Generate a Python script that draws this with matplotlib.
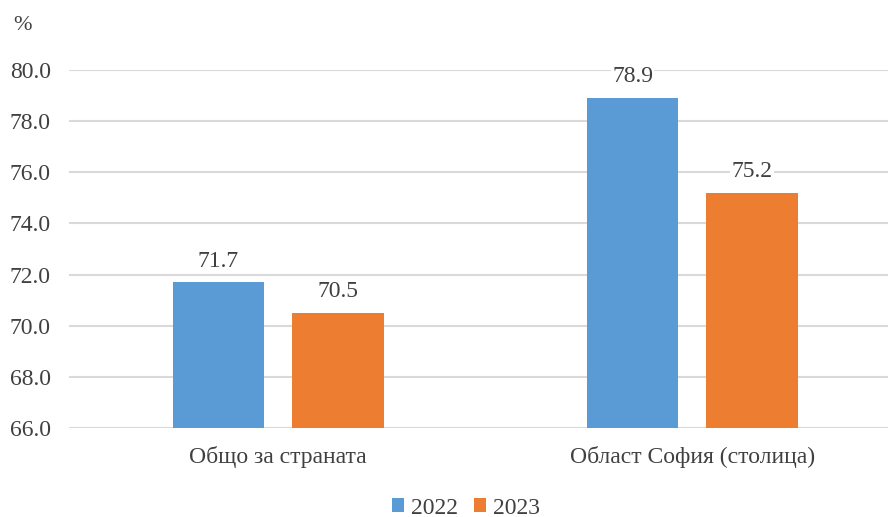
import matplotlib
matplotlib.use("Agg")
import matplotlib.pyplot as plt
from matplotlib.patches import Patch

categories = ["Общо за страната", "Област София (столица)"]
series_names = ["2022", "2023"]
values_2022 = [71.7, 78.9]
values_2023 = [70.5, 75.2]
yticks = [66.0, 68.0, 70.0, 72.0, 74.0, 76.0, 78.0, 80.0]

colors = ["#5B9BD5", "#ED7D31"]
plt.rcParams['font.family'] = ['Liberation Serif', 'DejaVu Serif']

W, H = 888, 517
fig = plt.figure(figsize=(W/100, H/100), dpi=100)
left, right, top, bottom = 69, 888, 70, 428
ax = fig.add_axes([left/W, (H-bottom)/H, (right-left)/W, (bottom-top)/H])

x = list(range(len(categories)))
bw = 0.222
off = 0.144
for i, (vals, c) in enumerate(zip([values_2022, values_2023], colors)):
    xs = [xi + (-off if i == 0 else off) for xi in x]
    ax.bar(xs, [v - 66 for v in vals], bottom=66, width=bw, color=c, zorder=3)
    for xx, v in zip(xs, vals):
        ax.text(xx, v + 0.42, f"{v:.1f}", ha="center", va="bottom", fontsize=17,
                color="#404040", zorder=4,
                bbox=dict(facecolor="white", edgecolor="none", pad=1))

ax.set_ylim(66, 80)
ax.set_xlim(-0.505, 1.473)
ax.set_yticks(yticks)
ax.set_yticklabels([f"{t:.1f}" for t in yticks], fontsize=17, color="#404040")
ax.set_xticks(x)
ax.set_xticklabels(categories, fontsize=17, color="#404040")
ax.tick_params(axis="both", length=0)
ax.tick_params(axis="y", pad=13)
ax.tick_params(axis="x", pad=13)
ax.grid(axis="y", color="#D9D9D9", linewidth=1.5, zorder=0)
for s in ax.spines.values():
    s.set_visible(False)

fig.text(22/W, 1 - 25/H, "%", fontsize=16, color="#404040", ha="center", va="center")

handles = [Patch(facecolor=c, edgecolor="none") for c in colors]
fig.legend(handles, series_names, loc="center", bbox_to_anchor=(466/W, 1 - 508/H),
           ncol=2, frameon=False, fontsize=17, handlelength=0.5, handleheight=0.5,
           handletextpad=0.3, columnspacing=0.7, labelcolor="#404040")

fig.savefig("out.png", dpi=100)
